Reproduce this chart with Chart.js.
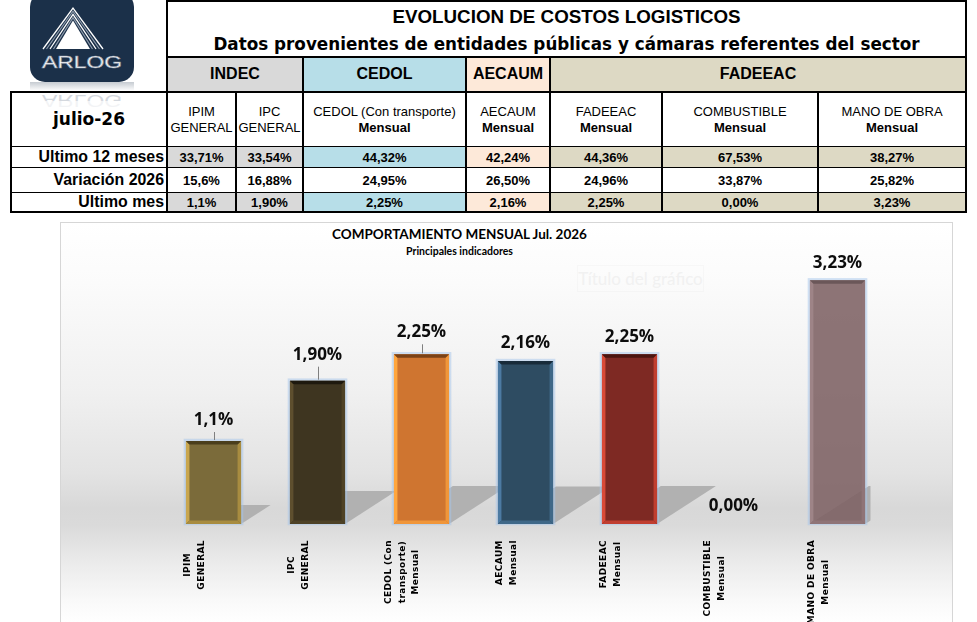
<!DOCTYPE html>
<html lang="es">
<head>
<meta charset="utf-8">
<title>Evolucion de costos logisticos</title>
<script src="https://cdn.jsdelivr.net/npm/chart.js@4.4.1/dist/chart.umd.min.js"></script>
<style>
html, body { margin: 0; padding: 0; background: #fff; }
body { position: relative; width: 977px; height: 622px; overflow: hidden; font-family: "Liberation Sans", Arial, sans-serif; color: #000; }
.negro { position: absolute; background: #000; }
.celda { position: absolute; display: flex; flex-direction: column; align-items: center; justify-content: center; text-align: center; background: #fff; box-sizing: border-box; white-space: nowrap; line-height: 1.15; }
.t1 { font-weight: bold; font-size: 18.8px; line-height: 24px; }
.t2 { font-family: "DejaVu Sans", sans-serif; font-weight: bold; font-size: 16.8px; line-height: 30px; }
#logo, #reflejo { position: absolute; left: 0; top: 0; }
#caja { position: absolute; left: 60px; top: 222px; width: 893px; height: 410px; box-sizing: border-box; border: 1px solid #d6d6d6;
  background: linear-gradient(to bottom, #ffffff 0px, #fbfbfb 60px, #f0f0f0 170px, #e3e3e3 250px, #d8d8d8 285px, #dadada 302px, #ebebeb 340px, #fafafa 380px, #ffffff 400px); }
#titulo, #subtitulo { position: absolute; left: 259px; width: 401px; text-align: center; font-family: Lato, sans-serif; font-weight: bold; }
#titulo { top: 225px; font-size: 13.5px; line-height: 18px; }
#subtitulo { top: 244px; font-size: 10.5px; line-height: 14px; }
#fantasma { position: absolute; left: 577px; top: 265px; width: 127px; height: 27px; box-sizing: border-box; border: 1px solid rgba(0,0,0,0.02);
  font-family: Lato, sans-serif; font-size: 17px; line-height: 25px; text-align: center; color: #f1f1f1; }
#grafico { position: absolute; left: 61px; top: 223px; }
</style>
</head>
<body>
<svg id="logo" width="160" height="100" viewBox="0 0 160 100">
  <defs>
    <linearGradient id="fade" x1="0" y1="0" x2="0" y2="1">
      <stop offset="0" stop-color="#1b3049" stop-opacity="0.25"/>
      <stop offset="1" stop-color="#1b3049" stop-opacity="0"/>
    </linearGradient>
  </defs>
  <rect x="30" y="-8" width="104" height="90" rx="15" fill="#1b3049"/>
  <rect x="30" y="82" width="104" height="9" fill="url(#fade)"/>
  <polyline points="43,49 73,8 103,49" fill="none" stroke="#ffffff" stroke-width="1.3"/>
  <polyline points="46.5,49 73,11.2 99.5,49" fill="none" stroke="#8c9aab" stroke-width="1.2"/>
  <polyline points="50,49 73,14.4 96,49" fill="none" stroke="#ffffff" stroke-width="1.3"/>
  <polyline points="53.5,49 73,17.6 92.5,49" fill="none" stroke="#8c9aab" stroke-width="1.2"/>
  <polygon points="56,49 73,20.5 90,49" fill="#ffffff"/>
  <text x="82" y="68" font-family="Liberation Sans" font-size="17" fill="#ffffff" stroke="#8a95a5" stroke-width="0.6" text-anchor="middle" textLength="80" lengthAdjust="spacingAndGlyphs">ARLOG</text>
</svg>

<div id="caja"></div>
<div id="titulo">COMPORTAMIENTO MENSUAL Jul. 2026</div>
<div id="subtitulo">Principales indicadores</div>
<div id="fantasma">Título del gráfico</div>
<canvas id="grafico" width="891" height="399" style="width:891px;height:399px"></canvas>

<script>
// Datos
var periodo = 'julio-26';
var grupos = ['INDEC', 'CEDOL', 'AECAUM', 'FADEEAC'];
var gruposColumnas = [2, 1, 1, 3];
var columnas = [['IPIM', 'GENERAL'], ['IPC', 'GENERAL'], ['CEDOL (Con transporte)', 'Mensual'], ['AECAUM', 'Mensual'], ['FADEEAC', 'Mensual'], ['COMBUSTIBLE', 'Mensual'], ['MANO DE OBRA', 'Mensual']];
var filas = ['Ultimo 12 meses', 'Variación 2026', 'Ultimo mes'];
var ultimos12 = ['33,71%', '33,54%', '44,32%', '42,24%', '44,36%', '67,53%', '38,27%'];
var variacion2026 = ['15,6%', '16,88%', '24,95%', '26,50%', '24,96%', '33,87%', '25,82%'];
var ultimoMes = [1.1, 1.90, 2.25, 2.16, 2.25, 0.00, 3.23];
var decimales = [1, 2, 2, 2, 2, 2, 2];
var categorias = [['IPIM', 'GENERAL'], ['IPC', 'GENERAL'], ['CEDOL (Con', 'transporte)', 'Mensual'], ['AECAUM', 'Mensual'], ['FADEEAC', 'Mensual'], ['COMBUSTIBLE', 'Mensual'], ['MANO DE OBRA', 'Mensual']];

function formato(v, d) {
  return v.toFixed(d).replace('.', ',') + '%';
}

// Tabla
var bordesX = [11, 167, 236, 303, 466, 550, 662, 818, 966];
var arribaY = [2, 58, 93, 147, 168, 193];
var abajoY = [56, 91, 146, 167, 192, 211];
var fondoColumna = ['#d9d9d9', '#d9d9d9', '#b7dee8', '#fde9d9', '#ddd9c4', '#ddd9c4', '#ddd9c4'];

function bloque(x0, y0, x1, y1) {
  var d = document.createElement('div');
  d.className = 'negro';
  d.style.left = x0 + 'px';
  d.style.top = y0 + 'px';
  d.style.width = (x1 - x0) + 'px';
  d.style.height = (y1 - y0) + 'px';
  document.body.appendChild(d);
}
function celda(x0, y0, x1, y1, html, fondo, css) {
  var d = document.createElement('div');
  d.className = 'celda';
  d.style.cssText = (css || '');
  d.style.left = x0 + 'px';
  d.style.top = y0 + 'px';
  d.style.width = (x1 - x0) + 'px';
  d.style.height = (y1 - y0) + 'px';
  d.style.background = fondo;
  d.innerHTML = html;
  document.body.appendChild(d);
}

bloque(166, 0, 967, 93);
bloque(10, 91, 967, 213);
celda(168, 2, 965, 56, '<div class="t1">EVOLUCION DE COSTOS LOGISTICOS</div><div class="t2">Datos provenientes de entidades públicas y cámaras referentes del sector</div>', '#fff', 'justify-content:flex-start;padding-top:3px');

var c = 0;
for (var g = 0; g < grupos.length; g++) {
  celda(bordesX[c + 1] + 1, arribaY[1], bordesX[c + gruposColumnas[g] + 1] - 1, abajoY[1], grupos[g], fondoColumna[c], 'font-weight:bold;font-size:16px');
  c += gruposColumnas[g];
}

celda(12, arribaY[2], 166, abajoY[2], periodo, '#fff', 'font-family:"DejaVu Sans";font-weight:bold;font-size:17px');
for (var i = 0; i < columnas.length; i++) {
  var segunda = columnas[i][1] === 'Mensual' ? '<b>' + columnas[i][1] + '</b>' : columnas[i][1];
  celda(bordesX[i + 1] + 1, arribaY[2], bordesX[i + 2] - 1, abajoY[2], '<div>' + columnas[i][0] + '</div><div>' + segunda + '</div>', '#fff', 'font-size:13px;line-height:16px');
}

var valoresFilas = [ultimos12, variacion2026, ultimoMes.map(function (v, k) { return formato(v, decimales[k]); })];
for (var r = 0; r < filas.length; r++) {
  celda(12, arribaY[3 + r], 166, abajoY[3 + r], filas[r], '#fff', 'align-items:flex-end;padding-right:2px;font-weight:bold;font-size:15.9px;line-height:1');
  for (var i = 0; i < columnas.length; i++) {
    celda(bordesX[i + 1] + 1, arribaY[3 + r], bordesX[i + 2] - 1, abajoY[3 + r], valoresFilas[r][i], r === 1 ? '#fff' : fondoColumna[i], 'font-weight:bold;font-size:13px;line-height:1');
  }
}

// Reflejo del logo sobre la celda del periodo
var ns = 'http://www.w3.org/2000/svg';
var reflejo = document.createElementNS(ns, 'svg');
reflejo.setAttribute('id', 'reflejo');
reflejo.setAttribute('width', '160');
reflejo.setAttribute('height', '120');
reflejo.innerHTML = '<text x="82" y="68" transform="translate(0,163) scale(1,-1)" font-family="Liberation Sans" font-size="17" fill="#d4d8de" text-anchor="middle" textLength="80" lengthAdjust="spacingAndGlyphs">ARLOG</text>' +
  '<rect x="30" y="101" width="104" height="9" fill="#ffffff" opacity="0.7"/>';
document.body.appendChild(reflejo);

// Estilos de barras
var rellenos = ['#7b6b3a', '#3e3520', '#cf7530', '#2e4c62', '#7e2923', '#999999', 'rgba(125,97,99,0.88)'];
var bordesClaros = ['#c9a64e', '#5e4f2e', '#ffa63e', '#4c7aa2', '#d94a38', '#999999', '#9e8487'];
var bordesOscuros = ['#a88c40', '#4e4226', '#f0963a', '#3f6888', '#c03e30', '#999999', '#8f7477'];
var topes = ['#4a3e1c', '#1e190e', '#7a4217', '#182b3a', '#4b1510', '#999999', '#6b5759'];
var alturaEtiqueta = [21, 26, 22, 18, 17, 18, 17];
var conGuia = [true, true, true, false, false, false, false];

function trapecio(ctx, p, color) {
  ctx.fillStyle = color;
  ctx.beginPath();
  ctx.moveTo(p[0], p[1]);
  for (var k = 2; k < p.length; k += 2) ctx.lineTo(p[k], p[k + 1]);
  ctx.closePath();
  ctx.fill();
}

var efectos = {
  id: 'efectos',
  beforeDatasetsDraw: function (chart) {
    var ctx = chart.ctx;
    var area = chart.chartArea;
    var barras = chart.getDatasetMeta(0).data;
    // sombras sobre el piso
    ctx.save();
    ctx.beginPath();
    ctx.rect(0, 0, area.right - 19, chart.height);
    ctx.clip();
    for (var i = 0; i < barras.length; i++) {
      var b = barras[i].getProps(['x', 'y', 'base', 'width'], true);
      var h = b.base - b.y;
      if (h <= 0) continue;
      var L = b.x - b.width / 2, R = b.x + b.width / 2;
      var dy = Math.min(h * 0.23, 38), dx = dy * 1.55;
      trapecio(ctx, [L, b.base, R, b.base, R + dx, b.base - dy, L + dx, b.base - dy], '#b1b1b1');
    }
    ctx.restore();
    // brillo azulado
    ctx.save();
    ctx.strokeStyle = 'rgba(165,198,235,0.5)';
    ctx.lineWidth = 2.5;
    for (var i = 0; i < barras.length; i++) {
      var b = barras[i].getProps(['x', 'y', 'base', 'width'], true);
      var h = b.base - b.y;
      if (h <= 0) continue;
      ctx.strokeRect(b.x - b.width / 2 - 1, b.y - 1, b.width + 2, h + 1);
    }
    ctx.restore();
  },
  afterDatasetsDraw: function (chart) {
    var ctx = chart.ctx;
    var barras = chart.getDatasetMeta(0).data;
    var e = 3.5;
    ctx.save();
    for (var i = 0; i < barras.length; i++) {
      var b = barras[i].getProps(['x', 'y', 'base', 'width'], true);
      var h = b.base - b.y;
      var L = b.x - b.width / 2, R = b.x + b.width / 2, T = b.y, B = b.base;
      if (h > 0) {
        trapecio(ctx, [L, T, L + e, T + e, L + e, B - e, L, B], bordesClaros[i]);
        trapecio(ctx, [R, T, R, B, R - e, B - e, R - e, T + e], bordesOscuros[i]);
        trapecio(ctx, [L, B, R, B, R - e, B - e, L + e, B - e], bordesOscuros[i]);
        trapecio(ctx, [L, T, R, T, R - e, T + e, L + e, T + e], topes[i]);
      }
      if (conGuia[i]) {
        ctx.strokeStyle = '#7f7f7f';
        ctx.lineWidth = 1;
        ctx.beginPath();
        ctx.moveTo(Math.round(b.x) + 0.5, T - 1);
        ctx.lineTo(Math.round(b.x) + 0.5, T - alturaEtiqueta[i] + 12);
        ctx.stroke();
      }
      ctx.fillStyle = '#0d0d0d';
      ctx.font = 'bold 17px "Open Sans"';
      ctx.textAlign = 'center';
      ctx.textBaseline = 'middle';
      ctx.fillText(formato(ultimoMes[i], decimales[i]), b.x, T - alturaEtiqueta[i]);
    }
    ctx.restore();
  },
  afterDraw: function (chart) {
    var ctx = chart.ctx;
    var barras = chart.getDatasetMeta(0).data;
    ctx.save();
    ctx.fillStyle = '#000';
    ctx.font = 'bold 9px "DejaVu Sans"';
    ctx.letterSpacing = '0.4px';
    ctx.textAlign = 'center';
    ctx.textBaseline = 'middle';
    for (var i = 0; i < barras.length; i++) {
      var b = barras[i].getProps(['x', 'base'], true);
      var lineas = categorias[i];
      var ancho = 0;
      for (var k = 0; k < lineas.length; k++) ancho = Math.max(ancho, ctx.measureText(lineas[k]).width);
      var cx = b.x - 19;
      var cy = b.base + 16 + ancho / 2;
      for (var k = 0; k < lineas.length; k++) {
        ctx.save();
        ctx.translate(cx + (k - (lineas.length - 1) / 2) * 13.5, cy);
        ctx.rotate(-Math.PI / 2);
        ctx.fillText(lineas[k], 0, 0);
        ctx.restore();
      }
    }
    ctx.restore();
  }
};

// Grafico
var ctxGrafico = document.getElementById('grafico').getContext('2d');
var grafico = new Chart(ctxGrafico, {
  type: 'bar',
  data: {
    labels: categorias,
    datasets: [{
      data: ultimoMes,
      backgroundColor: rellenos,
      borderWidth: 0,
      categoryPercentage: 1,
      barPercentage: 0.53
    }]
  },
  options: {
    responsive: false,
    animation: false,
    layout: { padding: { left: 100.5, right: 62.5, top: 37, bottom: 98 } },
    plugins: {
      legend: { display: false },
      tooltip: { enabled: false }
    },
    scales: {
      x: { display: false },
      y: { display: false, min: 0, max: 3.5 }
    }
  },
  plugins: [efectos]
});
</script>
</body>
</html>
